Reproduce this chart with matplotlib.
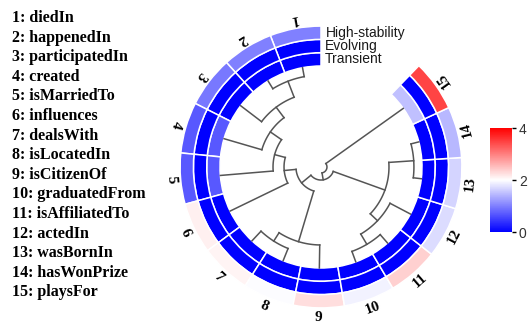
import numpy as np
import matplotlib.pyplot as plt
from matplotlib import cm, colors

relations = ['diedIn', 'happenedIn', 'participatedIn', 'created', 'isMarriedTo',
             'influences', 'dealsWith', 'isLocatedIn', 'isCitizenOf', 'graduatedFrom',
             'isAffiliatedTo', 'actedIn', 'wasBornIn', 'hasWonPrize', 'playsFor']
tracks = ['High-stability', 'Evolving', 'Transient']
high_stability = [1.0, 1.0, 0.95, 0.7, 0.7, 2.12, 2.08, 1.98, 2.25, 1.9, 2.37, 1.73, 1.66, 1.45, 3.46]
evolving = [0.0] * 15
transient = [0, 0, 0, 0.7, 0.7, 0, 0, 0, 0, 0, 0, 0, 0, 0, 1.5]

# linkage: (child a, child b, height); leaves 0..14, clusters 15..
merges = [(0, 1, 0.09), (15, 2, 0.26), (16, 3, 0.39), (17, 4, 0.525), (18, 5, 0.634),
          (6, 7, 0.13), (20, 8, 0.228), (19, 21, 0.752),
          (9, 10, 0.11), (23, 11, 0.228), (12, 13, 0.08), (24, 25, 0.327),
          (22, 26, 0.871), (27, 14, 0.941)]

W, H = 532, 324
fig = plt.figure(figsize=(W / 100, H / 100), dpi=100)
cx, cy, R = 321, 167, 160
ax = fig.add_axes([(cx - R) / W, (H - cy - R) / H, 2 * R / W, 2 * R / H], projection='polar')
ax.set_ylim(0, R)
ax.axis('off')

cmap = cm.bwr
norm = colors.Normalize(0, 4)

n = len(relations)
start, span = 90, 316
w = span / n
theta = np.deg2rad(start + (np.arange(n) + 0.5) * w)

r_in, ring = 101, 13.3
for k, vals in enumerate([transient, evolving, high_stability]):
    ax.bar(theta, ring, width=np.deg2rad(w), bottom=r_in + k * ring,
           color=cmap(norm(np.array(vals))), edgecolor='white', linewidth=1.1)

for k, name in enumerate(tracks):
    rc = r_in + (2 - k + 0.5) * ring
    ax.text(np.deg2rad(88.0), rc, name, ha='left', va='center', fontsize=10,
            family='Liberation Sans', color='#1a1a1a')

# dendrogram
pos = {i: theta[i] for i in range(n)}
rad = {i: r_in for i in range(n)}
lc = '#555555'
for k, (a, b, h) in enumerate(merges):
    r = r_in * (1 - h)
    for c in (a, b):
        ax.plot([pos[c], pos[c]], [rad[c], r], color=lc, lw=1.1)
    t = np.linspace(pos[a], pos[b], 60)
    ax.plot(t, np.full_like(t, r), color=lc, lw=1.1)
    pos[n + k] = (pos[a] + pos[b]) / 2
    rad[n + k] = r

for i in range(n):
    deg = np.rad2deg(theta[i])
    ax.text(theta[i], 150.5, str(i + 1), rotation=(deg + 90) % 360, rotation_mode='anchor',
            ha='center', va='center', fontsize=11, fontweight='bold', family='Liberation Serif')

for i, name in enumerate(relations):
    y = 18 + i * 19.6
    fig.text(12 / W, 1 - y / H, f'{i + 1}: {name}', ha='left', va='center', fontsize=11.5,
             fontweight='bold', family='Liberation Serif')

cax = fig.add_axes([490 / W, (H - 232) / H, 22 / W, 104 / H])
cb = fig.colorbar(cm.ScalarMappable(norm=norm, cmap=cmap), cax=cax, ticks=[0, 2, 4])
cb.outline.set_visible(False)
cax.tick_params(length=3, width=1, labelsize=10, pad=2, labelcolor='#333333')
for t in cax.get_yticklabels():
    t.set_family('Liberation Sans')

fig.savefig('out.png', dpi=100)
